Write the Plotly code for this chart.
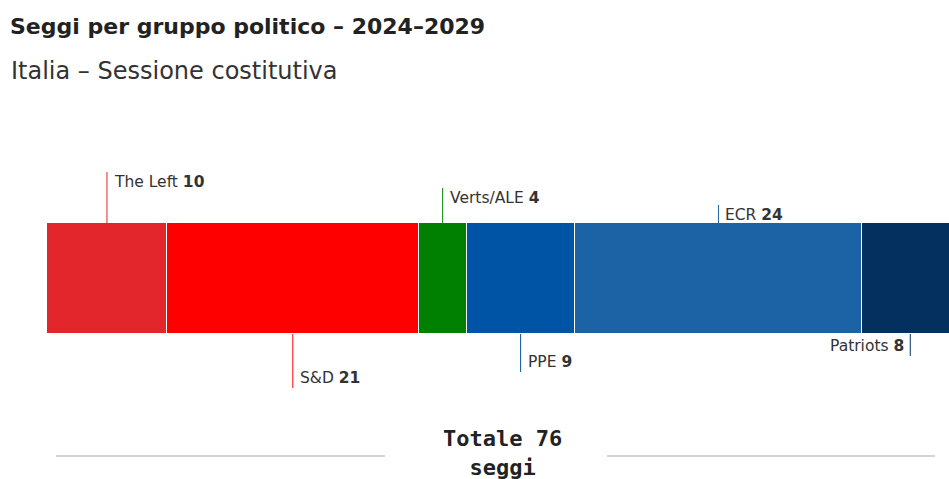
import plotly.graph_objects as go

# ---- data ----
groups = ["The Left", "S&D", "Verts/ALE", "PPE", "ECR", "Patriots"]
seats = [10, 21, 4, 9, 24, 8]
colors = ["#E3262C", "#FF0000", "#008000", "#0054A5", "#1C63A6", "#03305F"]
title_text = "Seggi per gruppo politico – 2024–2029"
subtitle_text = "Italia – Sessione costitutiva"

# ---- layout helpers (pixel geometry) ----
W, H = 949, 479
bar_left_px = 47
px_per_seat = 11.99
bar_top, bar_bot = 223, 334
# label side (+1 above, -1 below) and leader line length in px
sides = [1, -1, 1, -1, 1, -1]
line_len = [51, 54, 35, 38, 18, 22]
anchors = ["left", "left", "left", "left", "left", "right"]

x0 = -bar_left_px / px_per_seat
x1 = (W - bar_left_px) / px_per_seat

fig = go.Figure()
cum = 0
shapes = []
annotations = []
for g, s, c, side, ll, anc in zip(groups, seats, colors, sides, line_len, anchors):
    fig.add_trace(go.Bar(
        x=[s], y=[(bar_top + bar_bot) / 2], width=[bar_bot - bar_top],
        orientation="h", marker=dict(color=c, line=dict(color="white", width=1)),
        name=g, hoverinfo="skip", showlegend=False,
    ))
    mid = cum + s / 2
    if side > 0:
        ya, yb = bar_top - ll, bar_top
        ty = ya + 10
    else:
        ya, yb = bar_bot, bar_bot + ll
        ty = yb - 10
    shapes.append(dict(type="line", xref="x", yref="y", x0=mid, x1=mid, y0=ya, y1=yb,
                       line=dict(color=c, width=1)))
    annotations.append(dict(
        x=mid, y=ty, xref="x", yref="y", xanchor=anc, yanchor="middle",
        xshift=5 if anc == "left" else -4, showarrow=False,
        text=f"{g} <b>{s}</b>",
        font=dict(family="DejaVu Sans", size=15.5, color="#333333"),
    ))
    cum += s

total = sum(seats)

# title / subtitle
annotations.append(dict(x=8 / W, y=1 - 27 / H, xref="paper", yref="paper",
                        xanchor="left", yanchor="middle", showarrow=False,
                        text=f"<b>{title_text}</b>",
                        font=dict(family="DejaVu Sans", size=22, color="#222222")))
annotations.append(dict(x=9 / W, y=1 - 71 / H, xref="paper", yref="paper",
                        xanchor="left", yanchor="middle", showarrow=False,
                        text=subtitle_text,
                        font=dict(family="DejaVu Sans", size=24, color="#333333")))
# total
annotations.append(dict(x=503 / W, y=1 - 453 / H, xref="paper", yref="paper",
                        xanchor="center", yanchor="middle", showarrow=False,
                        text=f"<b>Totale {total}<br>seggi</b>",
                        font=dict(family="DejaVu Sans Mono", size=22, color="#222222")))
for a, b in [(56, 385), (607, 935)]:
    shapes.append(dict(type="line", xref="paper", yref="paper",
                       x0=a / W, x1=b / W, y0=1 - 456 / H, y1=1 - 456 / H,
                       line=dict(color="#d4d4d4", width=2)))

fig.update_layout(
    width=W, height=H, margin=dict(l=0, r=0, t=0, b=0),
    barmode="stack", bargap=0,
    paper_bgcolor="white", plot_bgcolor="white",
    xaxis=dict(range=[x0, x1], visible=False, fixedrange=True),
    yaxis=dict(range=[H, 0], visible=False, fixedrange=True),
    shapes=shapes, annotations=annotations,
)
fig.write_html("out.html")
